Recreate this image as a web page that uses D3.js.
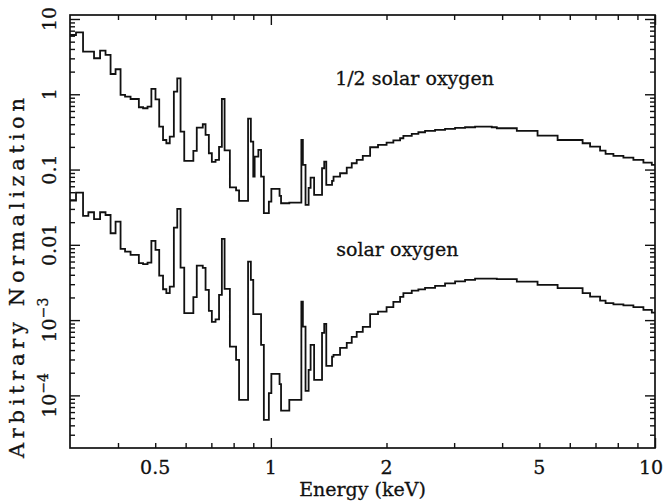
<!DOCTYPE html>
<html>
<head>
<meta charset="utf-8">
<script src="https://cdn.jsdelivr.net/npm/d3@7"></script>
<style>
  html, body { margin: 0; padding: 0; background: #fff; }
  svg { display: block; }
  text { font-family: "DejaVu Serif", "Liberation Serif", serif; fill: #111; stroke: #111; stroke-width: 0.3; }
</style>
</head>
<body>
<svg id="chart" width="665" height="501"></svg>
<script>
// Bin edges of the model spectra (keV)
const binEdges = [
  0.300, 0.311, 0.3244, 0.3349, 0.3465, 0.3593, 0.3712, 0.3826, 0.3942, 0.4062,
  0.4173, 0.4313, 0.4533, 0.4649, 0.4775, 0.4886, 0.5008, 0.5121, 0.5240, 0.5345,
  0.5455, 0.5591, 0.5706, 0.5820, 0.5950, 0.6284, 0.6414, 0.6649, 0.6761, 0.6896,
  0.7021, 0.7178, 0.7330, 0.7455, 0.7578, 0.7822, 0.8118, 0.8265, 0.8723, 0.8870,
  0.8999, 0.9074, 0.9278, 0.9430, 0.9589, 0.9881, 1.003, 1.0535, 1.063, 1.117,
  1.2006, 1.2115, 1.231, 1.254, 1.269, 1.296, 1.359, 1.377, 1.394, 1.443,
  1.456, 1.514, 1.576, 1.624, 1.673, 1.735, 1.813, 1.901, 2.001, 2.084,
  2.170, 2.213, 2.327, 2.421, 2.520, 2.676, 2.841, 3.017, 3.203, 3.401,
  3.759, 3.874, 4.368, 4.946, 5.578, 6.479, 6.776, 7.195, 7.436, 7.794,
  8.275, 8.785, 9.329, 9.811, 10.0
];

// Spectrum with half-solar oxygen abundance (one value per bin)
const halfSolarOxygen = [
  6.13, 6.66, 3.68, 3.68, 3.01, 3.79, 3.33, 1.86, 2.15, 0.979,
  0.929, 0.866, 0.672, 0.652, 0.684, 1.176, 0.858, 0.371, 0.247, 0.2235,
  0.2735, 1.083, 1.631, 0.3187, 0.130, 0.1766, 0.360, 0.3996, 0.288, 0.1646,
  0.1262, 0.1341, 0.1996, 0.866, 0.1794, 0.0578, 0.0528, 0.0383, 0.474, 0.2347,
  0.0805, 0.1484, 0.1821, 0.0805, 0.0263, 0.0375, 0.0553, 0.0446, 0.0357, 0.0363,
  0.247, 0.1151, 0.0339, 0.0570, 0.0780, 0.0460, 0.1041, 0.1273, 0.0624, 0.0706,
  0.0805, 0.0893, 0.1060, 0.1213, 0.1341, 0.1516, 0.1978, 0.2122, 0.2276, 0.2435,
  0.2604, 0.2795, 0.2971, 0.3129, 0.3256, 0.3357, 0.3461, 0.3568, 0.3646, 0.371,
  0.3646, 0.3535, 0.3256, 0.2820, 0.247, 0.2235, 0.2014, 0.1782, 0.1611, 0.1516,
  0.1439, 0.1341, 0.1235, 0.1151
];

// Spectrum with solar oxygen abundance (one value per bin)
const solarOxygen = [
  0.0386, 0.0493, 0.0242, 0.0271, 0.0219, 0.0271, 0.0249, 0.01426, 0.0203, 0.00882,
  0.00812, 0.00734, 0.00570, 0.00553, 0.00580, 0.01127, 0.00855, 0.00390, 0.00257, 0.00228,
  0.00279, 0.01692, 0.0300, 0.00498, 0.001235, 0.002014, 0.00529, 0.00493, 0.00252, 0.001325,
  0.000946, 0.001022, 0.00216, 0.01198, 0.00260, 0.000445, 0.000296, 0.0000871, 0.00598, 0.00342,
  0.001198, 0.001198, 0.001198, 0.000469, 0.0000473, 0.000107, 0.000193, 0.000141, 0.0000628, 0.0000871,
  0.00176, 0.000820, 0.0001148, 0.000218, 0.000469, 0.0001606, 0.000676, 0.000890, 0.000246, 0.000328,
  0.000345, 0.000427, 0.000498, 0.000598, 0.000697, 0.000812, 0.001198, 0.001297, 0.001483, 0.001745,
  0.002033, 0.00228, 0.002465, 0.002556, 0.002677, 0.002845, 0.003072, 0.003265, 0.00342, 0.003557,
  0.003557, 0.003492, 0.003245, 0.002934, 0.002652, 0.00228, 0.002052, 0.001816, 0.001677, 0.001616,
  0.001567, 0.001483, 0.001366, 0.001258
];

// Axis ticks
const xTickLabels = [0.5, 1, 2, 5, 10];
const xMajorTicks = [1, 10];
const xMinorTicks = [0.4, 0.5, 0.6, 0.7, 0.8, 0.9, 2, 3, 4, 5, 6, 7, 8, 9];
const yMajorTicks = [1e-4, 1e-3, 1e-2, 1e-1, 1, 10];
const yTickLabels = [
  { v: 10, base: "10", exp: null },
  { v: 1, base: "1", exp: null },
  { v: 0.1, base: "0.1", exp: null },
  { v: 0.01, base: "0.01", exp: null },
  { v: 1e-3, base: "10", exp: "\u22123" },
  { v: 1e-4, base: "10", exp: "\u22124" }
];

// Series annotations, placed in data coordinates (keV, normalization)
const seriesLabels = [
  { text: "1/2 solar oxygen", x: 1.47, y: 1.32 },
  { text: "solar oxygen", x: 1.48, y: 0.0072 }
];

const margin = { left: 70, right: 10, top: 15, bottom: 53 };
const width = 665, height = 501;
const fontSize = 19;

const svg = d3.select("#chart");

const x = d3.scaleLog().domain([0.3, 10]).range([margin.left, width - margin.right]);
const y = d3.scaleLog().domain([2e-5, 11.3]).range([height - margin.bottom, margin.top]);

const yMinorTicks = [];
for (let d = -5; d <= 1; d++) {
  for (let k = 2; k <= 9; k++) {
    const v = k * Math.pow(10, d);
    if (v > y.domain()[0] && v < y.domain()[1]) yMinorTicks.push(v);
  }
}

const plotTop = margin.top, plotBottom = height - margin.bottom;
const plotLeft = margin.left, plotRight = width - margin.right;

// Inward tick marks on all four sides
function addAxis(gen, transform) {
  const g = svg.append("g").attr("transform", transform).call(gen);
  g.select(".domain").remove();
  g.selectAll("text").remove();
  g.selectAll("line").attr("stroke", "#111").attr("stroke-width", 1.4);
  return g;
}
addAxis(d3.axisBottom(x).tickValues(xMinorTicks).tickSize(-5), `translate(0,${plotBottom})`);
addAxis(d3.axisBottom(x).tickValues(xMajorTicks).tickSize(-10), `translate(0,${plotBottom})`);
addAxis(d3.axisTop(x).tickValues(xMinorTicks).tickSize(-5), `translate(0,${plotTop})`);
addAxis(d3.axisTop(x).tickValues(xMajorTicks).tickSize(-10), `translate(0,${plotTop})`);
addAxis(d3.axisLeft(y).tickValues(yMinorTicks).tickSize(-5), `translate(${plotLeft},0)`);
addAxis(d3.axisLeft(y).tickValues(yMajorTicks).tickSize(-10), `translate(${plotLeft},0)`);
addAxis(d3.axisRight(y).tickValues(yMinorTicks).tickSize(-5), `translate(${plotRight},0)`);
addAxis(d3.axisRight(y).tickValues(yMajorTicks).tickSize(-10), `translate(${plotRight},0)`);

// Frame
svg.append("rect")
  .attr("x", plotLeft).attr("y", plotTop)
  .attr("width", plotRight - plotLeft).attr("height", plotBottom - plotTop)
  .attr("fill", "none").attr("stroke", "#111").attr("stroke-width", 1.7);

// Histogram-style step lines
const line = d3.line()
  .x(d => x(d[0]))
  .y(d => y(d[1]))
  .curve(d3.curveStepAfter);

function stepPoints(values) {
  const pts = values.map((v, i) => [binEdges[i], v]);
  pts.push([binEdges[binEdges.length - 1], values[values.length - 1]]);
  return pts;
}

[halfSolarOxygen, solarOxygen].forEach(vals => {
  svg.append("path")
    .attr("d", line(stepPoints(vals)))
    .attr("fill", "none")
    .attr("stroke", "#111")
    .attr("stroke-width", 1.8)
    .attr("stroke-linejoin", "miter");
});

// X tick labels (the last one is kept inside the page edge)
svg.append("g").selectAll("text")
  .data(xTickLabels)
  .join("text")
  .attr("x", d => Math.min(x(d), width - 14))
  .attr("y", plotBottom + 26)
  .attr("text-anchor", "middle")
  .attr("font-size", fontSize)
  .text(d => d);

// Y tick labels, rotated
const yl = svg.append("g").selectAll("text")
  .data(yTickLabels)
  .join("text")
  .attr("transform", d => `translate(${plotLeft - 14},${y(d.v)}) rotate(-90)`)
  .attr("text-anchor", "middle")
  .attr("font-size", fontSize);
yl.append("tspan").text(d => d.base);
yl.filter(d => d.exp).append("tspan")
  .attr("dy", -8)
  .attr("font-size", 14)
  .text(d => d.exp);

// Axis titles
svg.append("text")
  .attr("x", (plotLeft + plotRight) / 2)
  .attr("y", height - 5)
  .attr("text-anchor", "middle")
  .attr("font-size", fontSize)
  .text("Energy (keV)");

// Vertical title, running from the bottom-left corner upward
svg.append("text")
  .attr("transform", `translate(24,458) rotate(-90)`)
  .attr("text-anchor", "start")
  .attr("font-size", 21)
  .attr("textLength", 360)
  .attr("lengthAdjust", "spacing")
  .text("Arbitrary Normalization");

// Series annotations
svg.append("g").selectAll("text")
  .data(seriesLabels)
  .join("text")
  .attr("x", d => x(d.x))
  .attr("y", d => y(d.y))
  .attr("font-size", fontSize)
  .text(d => d.text);
</script>
</body>
</html>
